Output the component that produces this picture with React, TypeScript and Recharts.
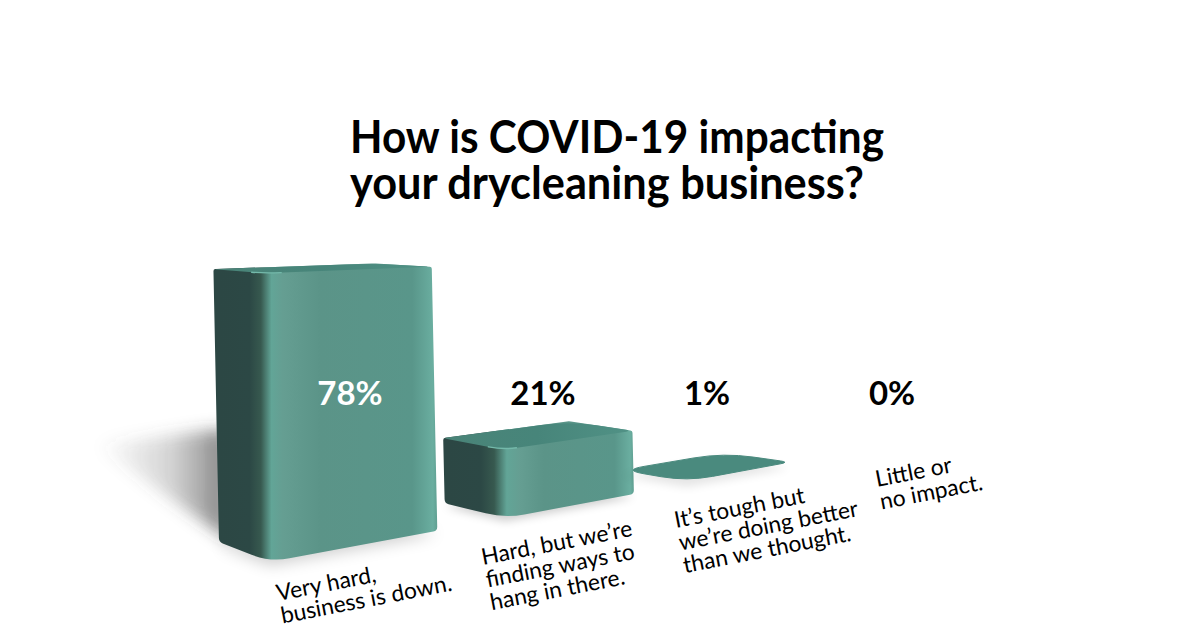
import React from "react";
import { BarChart, Bar, XAxis, YAxis, LabelList, Customized } from "recharts";

const categories = [
  "Very hard,\nbusiness is down.",
  "Hard, but we’re\nfinding ways to\nhang in there.",
  "It’s tough but\nwe’re doing better\nthan we thought.",
  "Little or\nno impact.",
];
const shares = [78, 21, 1, 0];
const titleLines = ["How is COVID-19 impacting", "your drycleaning business?"];
const table = categories.map((category, i) => ({ category, share: shares[i] }));

const W = 1200;
const H = 628;
const AXIS_H = 28;
const PLOT_H = H - AXIS_H;
const BAND = W / categories.length;
const GAP = 0.159;
const HORIZON = 198;
const FONT = "Lato, 'Noto Sans', sans-serif";

// ground-plane perspective: u counts bands along the row, v runs from front edge to back edge
type P = { x: number; y: number };
const ground = (u: number, v: number): P => {
  const d = 0.1456 * u + 0.08 * v + 1;
  return {
    x: (308.5 * u - 33.5 * v + 270) / d,
    y: (31.5 * u + 23.4 * v + 562) / d,
  };
};
const raise = (p: P, h: number): P => {
  const f = 1 - (1.017 * h) / PLOT_H;
  return { x: p.x - 7 * (1 - f), y: HORIZON + f * (p.y - HORIZON) };
};

const rounded = (pts: P[], radii: number[]) => {
  const n = pts.length;
  let d = "";
  pts.forEach((p, i) => {
    const a = pts[(i + n - 1) % n];
    const b = pts[(i + 1) % n];
    const la = Math.hypot(a.x - p.x, a.y - p.y) || 1;
    const lb = Math.hypot(b.x - p.x, b.y - p.y) || 1;
    const ra = Math.min(radii[i], la * 0.45);
    const rb = Math.min(radii[i], lb * 0.45);
    const s = { x: p.x + ((a.x - p.x) * ra) / la, y: p.y + ((a.y - p.y) * ra) / la };
    const e = { x: p.x + ((b.x - p.x) * rb) / lb, y: p.y + ((b.y - p.y) * rb) / lb };
    d += `${i ? "L" : "M"}${s.x} ${s.y}Q${p.x} ${p.y} ${e.x} ${e.y}`;
  });
  return d + "Z";
};

const poly = (pts: P[]) => pts.map((p) => `${p.x},${p.y}`).join(" ");

const Block3D = (props: any) => {
  const { x, width, height, index } = props;
  if (!height || height <= 0) return null;
  const u0 = x / BAND - GAP;
  const u1 = u0 + width / BAND;
  const F = ground(u0, 0);
  const R = ground(u1, 0);
  const L = ground(u0, 1);
  const B = ground(u1, 1);
  const [Ft, Rt, Lt, Bt] = [F, R, L, B].map((p) => raise(p, height));
  const span = R.x - L.x;
  const fr = (F.x - L.x) / span;
  const side = `side-${index}`;
  const top = `top-${index}`;
  const castScale = height / (PLOT_H * 0.78);
  const tip = { x: L.x - 122 * castScale, y: L.y - 97 * castScale };
  const up = { x: L.x - 6 * castScale, y: L.y - 112 * castScale };
  const r = Math.min(18, 6 + height * 0.12);
  const flat = height < 20;
  const topRadii = flat ? [22, 30, 9, 26] : [4, 28, 8, 12];
  return (
    <g>
      <defs>
        <linearGradient id={side} gradientUnits="userSpaceOnUse" x1={L.x} x2={R.x} y1={0} y2={0}>
          <stop offset={0} stopColor="#2c4744" />
          <stop offset={fr * 0.6} stopColor="#2c4845" />
          <stop offset={fr * 0.82} stopColor="#37594f" />
          <stop offset={fr * 1.03} stopColor="#62a597" />
          <stop offset={fr * 1.25} stopColor="#659e92" />
          <stop offset={fr + (1 - fr) * 0.3} stopColor="#5b9488" />
          <stop offset={fr + (1 - fr) * 0.85} stopColor="#59968a" />
          <stop offset={0.98} stopColor="#6aaea0" />
          <stop offset={1} stopColor="#5f9f91" />
        </linearGradient>
        <linearGradient id={top} gradientUnits="userSpaceOnUse" x1={Lt.x} x2={Rt.x} y1={0} y2={0}>
          <stop offset={0} stopColor="#4a8478" />
          <stop offset={0.5} stopColor="#47857a" />
          <stop offset={1} stopColor="#519286" />
        </linearGradient>
        <filter id={`blur-${index}`} x="-40%" y="-40%" width="180%" height="180%">
          <feGaussianBlur stdDeviation={castScale > 0.5 ? 8 : 5} />
        </filter>
        <linearGradient id={`cast-${index}`} gradientUnits="userSpaceOnUse" x1={tip.x} x2={L.x} y1={0} y2={0}>
          <stop offset={0} stopColor="#555" stopOpacity={0} />
          <stop offset={0.6} stopColor="#555" stopOpacity={0.25} />
          <stop offset={1} stopColor="#333" stopOpacity={0.55} />
        </linearGradient>
      </defs>
      {castScale > 0.5 && (
        <polygon
          points={poly([{ x: L.x + 12, y: L.y }, tip, up, { x: L.x + 12, y: up.y }])}
          fill={`url(#cast-${index})`}
          filter={`url(#blur-${index})`}
        />
      )}
      <polygon
        points={poly([L, F, R, B])}
        transform="translate(0 3)"
        fill="#000"
        opacity={flat ? 0.1 : 0.2}
        filter={`url(#blur-${index})`}
      />
      {!flat && (
        <path d={rounded([Lt, Bt, Rt, R, F, L], [2, 2, 2, 4, r * 1.1, 4])} fill={`url(#${side})`} />
      )}
      {flat ? (
        <path d={rounded([Lt, Bt, Rt, Ft], topRadii)} fill="#4a8a7e" stroke="#4a8a7e" strokeWidth={1} />
      ) : (
        <path d={rounded([Lt, Bt, Rt, Ft], topRadii)} fill={`url(#${top})`} />
      )}
      {!flat && (
        <path
          d={`M${Lt.x + (Ft.x - Lt.x) * 0.75} ${Lt.y + (Ft.y - Lt.y) * 0.75}Q${Ft.x} ${Ft.y} ${Ft.x + (Rt.x - Ft.x) * 0.1} ${Ft.y + (Rt.y - Ft.y) * 0.1}`}
          fill="none"
          stroke="#74b9aa"
          strokeWidth={1.4}
          strokeLinecap="round"
        />
      )}
    </g>
  );
};

const valueLabelX = [350, 543, 707, 892];
const ValueLabel = (props: any) => {
  const { index, value } = props;
  return (
    <text
      x={valueLabelX[index]}
      y={405}
      textAnchor="middle"
      fontFamily={FONT}
      fontWeight={700}
      fontSize={33}
      fill={index === 0 ? "#ffffff" : "#000000"}
    >
      {value}%
    </text>
  );
};

const tickAnchors = [
  { x: 278, y: 601 },
  { x: 483, y: 565 },
  { x: 676, y: 528 },
  { x: 877, y: 487 },
];
const CategoryTick = (props: any) => {
  const { index, payload } = props;
  const a = tickAnchors[index];
  const lines = String(payload.value).split("\n");
  return (
    <g transform={`translate(${a.x} ${a.y}) rotate(-11)`}>
      {lines.map((line: string, i: number) => (
        <text key={i} x={0} y={i * 23} fontFamily={FONT} fontSize={22.8} fill="#000">
          {line}
        </text>
      ))}
    </g>
  );
};

const Title = () => (
  <g>
    <text x={350} y={153} fontFamily={FONT} fontWeight={700} fontSize={45} fill="#000" textLength={534} lengthAdjust="spacingAndGlyphs">
      {titleLines[0]}
    </text>
    <text x={350} y={199} fontFamily={FONT} fontWeight={700} fontSize={45} fill="#000" textLength={514} lengthAdjust="spacingAndGlyphs">
      {titleLines[1]}
    </text>
  </g>
);

export default function App() {
  return (
    <div style={{ position: "absolute", left: 0, top: 0, width: W, height: H, background: "#fff" }}>
      <BarChart
        width={W}
        height={H}
        data={table}
        margin={{ top: 0, right: 0, bottom: 0, left: 0 }}
        barCategoryGap={`${GAP * 100}%`}
      >
        <XAxis
          dataKey="category"
          height={AXIS_H}
          axisLine={false}
          tickLine={false}
          interval={0}
          tick={<CategoryTick />}
        />
        <YAxis hide domain={[0, 100]} />
        <Customized component={Title} />
        <Bar dataKey="share" isAnimationActive={false} shape={<Block3D />}>
          <LabelList dataKey="share" content={<ValueLabel />} />
        </Bar>
      </BarChart>
    </div>
  );
}
